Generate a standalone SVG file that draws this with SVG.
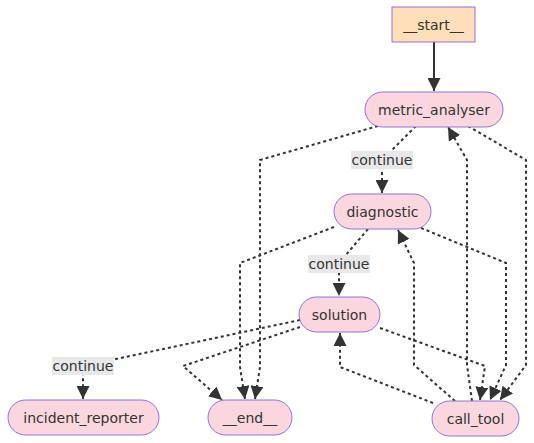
<svg xmlns="http://www.w3.org/2000/svg" width="534" height="443" viewBox="0 0 534 443">
<style>
.node rect{fill:#fad7de;stroke:#9370DB;stroke-width:1}
.node text,.lbl text{font-family:"DejaVu Sans",sans-serif;font-size:14px;fill:#333;text-anchor:middle;dominant-baseline:central}
.e{fill:none;stroke:#333;stroke-width:2;stroke-dasharray:3 3;marker-end:url(#ah)}
.solid{stroke-dasharray:none}
.lbl rect{fill:#e8e8e8}
</style>
<defs>
<marker id="ah" viewBox="0 0 10 10" refX="10" refY="5" markerUnits="userSpaceOnUse" markerWidth="13" markerHeight="13" orient="auto">
<path d="M0,0 L10,5 L0,10 z" fill="#333"/>
</marker>
</defs>
<g id="edges">
<path class="e solid" d="M434,42 L434,91"/>
<path class="e" d="M416,126 L382,160 L382,193"/>
<path class="e" d="M378,126 L260,160 L260,367 L255,399"/>
<path class="e" d="M334,227 L240,263 L240,367 L245,399"/>
<path class="e" d="M468,126 L526,160 L526,365 L500,400"/>
<path class="e" d="M472,401 L467,365 L467,160 L448,127"/>
<path class="e" d="M421,228 L506,263 L506,365 L490,400"/>
<path class="e" d="M455,401 L414,365 L414,263 L398,230"/>
<path class="e" d="M368,229 L339,263 L339,296"/>
<path class="e" d="M380,328 L485,366 L480,400"/>
<path class="e" d="M433,403 L340,367 L340,333"/>
<path class="e" d="M300,327 L183,366 L222,400"/>
<path class="e" d="M300,320 L83,366 L83,399"/>
</g>
<g id="labels">
<g class="lbl"><rect x="351" y="151" width="62" height="18"/><text x="382" y="160">continue</text></g>
<g class="lbl"><rect x="308" y="255" width="62" height="18"/><text x="339" y="264">continue</text></g>
<g class="lbl"><rect x="52" y="357" width="62" height="18"/><text x="83" y="366">continue</text></g>
</g>
<g id="__start__" class="node"><rect x="392" y="7" width="83" height="35" style="fill:#ffdfba"/><text x="433.5" y="24.5">__start__</text></g>
<g id="metric_analyser" class="node"><rect x="365" y="92" width="138" height="35" rx="17.5"/><text x="434" y="109.5">metric_analyser</text></g>
<g id="diagnostic" class="node"><rect x="334" y="194" width="97" height="35" rx="17.5"/><text x="382.5" y="211.5">diagnostic</text></g>
<g id="solution" class="node"><rect x="299" y="297" width="81" height="35" rx="17.5"/><text x="339.5" y="314.5">solution</text></g>
<g id="incident_reporter" class="node"><rect x="8" y="400" width="151" height="35" rx="17.5"/><text x="83.5" y="417.5">incident_reporter</text></g>
<g id="__end__" class="node"><rect x="208" y="400" width="84" height="35" rx="17.5"/><text x="250" y="417.5">__end__</text></g>
<g id="call_tool" class="node"><rect x="432" y="401" width="87" height="35" rx="17.5"/><text x="475.5" y="418.5">call_tool</text></g>
</svg>
